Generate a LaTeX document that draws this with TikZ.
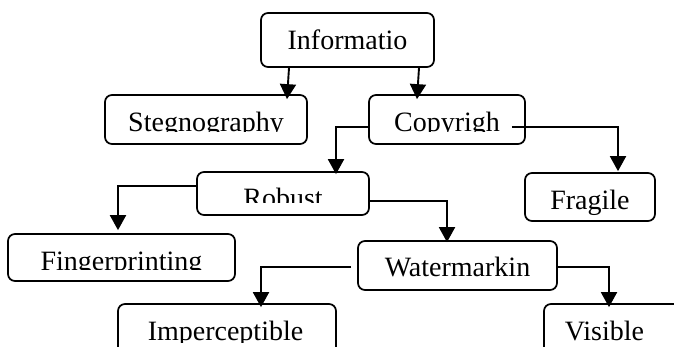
\documentclass[tikz,border=0pt]{standalone}
\usepackage{fontspec}
\setmainfont{Liberation Serif}
\usetikzlibrary{arrows.meta,calc}

\tikzset{
  x=1pt, y=1pt,
  box/.style={draw, line width=1.7pt, rounded corners=7pt, inner sep=0pt,
              minimum width=#1},
  lbl/.style={inner sep=0pt, anchor=base, font=\fontsize{28}{32}\selectfont},
  link/.style={line width=1.9pt},
  arr/.style={link, -{Triangle[length=15pt,width=16pt]}},
}

\begin{document}
\begin{tikzpicture}
  % page frame
  \clip (0,0) rectangle (674,-347);
  \fill[white] (0,0) rectangle (674,-347);

  % boxes
  \node[box=173pt, minimum height=54pt] (info)    at (347.5,-40)   {};
  \node[box=202pt, minimum height=49pt] (steg)    at (206,-119.5)  {};
  \node[box=156pt, minimum height=49pt] (copy)    at (447,-119.5)  {};
  \node[box=172pt, minimum height=43pt] (robust)  at (283,-193.5)  {};
  \node[box=130pt, minimum height=48pt] (fragile) at (590,-197)    {};
  \node[box=227pt, minimum height=47pt] (finger)  at (121.5,-257.5){};
  \node[box=199pt, minimum height=49pt] (water)   at (457.5,-265.5){};
  \node[box=218pt, minimum height=66pt] (imper)   at (227,-337)    {};
  \node[box=156pt, minimum height=66pt] (visible) at (622,-337)    {};

  % labels that fit
  \node[lbl] (info-t)    at ([yshift=-37pt]info.north)    {Informatio};
  \node[lbl] (fragile-t) at ([yshift=-37pt]fragile.north) {Fragile};
  \node[lbl] (water-t)   at ([yshift=-36.5pt]water.north) {Watermarkin};

  % labels cut off near their baseline
  \begin{scope}
    \clip (steg.north west) rectangle ([yshift=-37pt]steg.north east);
    \node[lbl] (steg-t) at ([yshift=-37.5pt]steg.north) {Stegnography};
  \end{scope}
  \begin{scope}
    \clip (copy.north west) rectangle ([yshift=-37pt]copy.north east);
    \node[lbl] (copy-t) at ([yshift=-37.5pt]copy.north) {Copyrigh};
  \end{scope}
  \begin{scope}
    \clip (robust.north west) rectangle ([yshift=-31pt]robust.north east);
    \node[lbl] (robust-t) at ([yshift=-36.5pt]robust.north) {Robust};
  \end{scope}
  \begin{scope}
    \clip (finger.north west) rectangle ([yshift=-36pt]finger.north east);
    \node[lbl] (finger-t) at ([yshift=-37.5pt]finger.north) {Fingerprinting};
  \end{scope}
  \begin{scope}
    \clip (imper.north west) rectangle ([yshift=-39pt]imper.north east);
    \node[lbl] (imper-t) at ([xshift=-1.5pt,yshift=-37.5pt]imper.north) {Imperceptible};
  \end{scope}
  \begin{scope}
    \clip (visible.north west) rectangle ([yshift=-39pt]visible.north east);
    \node[lbl] (visible-t) at ([xshift=-17.5pt,yshift=-37.5pt]visible.north) {Visible};
  \end{scope}

  % connectors
  \draw[arr] ([xshift=-58.5pt]info.south) -- ([xshift=81pt,yshift=-5pt]steg.north);
  \draw[arr] ([xshift=71.5pt]info.south)  -- ([xshift=-30pt,yshift=-5pt]copy.north);

  \draw[arr] ([yshift=-7.5pt]copy.west) -| ([xshift=53pt,yshift=-3pt]robust.north);
  \draw[arr] ([xshift=-14pt,yshift=-7.5pt]copy.east) -| ([xshift=28pt,yshift=1pt]fragile.north);

  \draw[arr] ([yshift=7.5pt]robust.west) -| ([xshift=-3.5pt,yshift=3pt]finger.north);
  \draw[arr] ([yshift=-7.5pt]robust.east) -| ([xshift=-10.5pt,yshift=-2pt]water.north);

  \draw[arr] ([xshift=-6pt,yshift=-1.5pt]water.west) -| ([xshift=34pt,yshift=-4pt]imper.north);
  \draw[arr] ([yshift=-1.5pt]water.east) -| ([xshift=-13pt,yshift=-4pt]visible.north);
\end{tikzpicture}
\end{document}
